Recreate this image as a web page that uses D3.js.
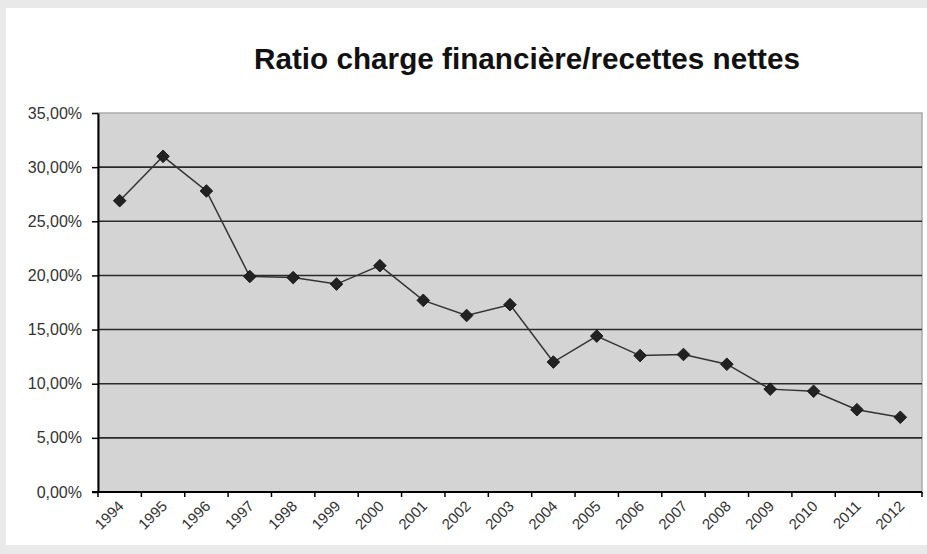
<!DOCTYPE html>
<html>
<head>
<meta charset="utf-8">
<script src="https://cdn.jsdelivr.net/npm/d3@7"></script>
<style>
  body { margin: 0; background: #e9e9e9; }
  svg { display: block; }
</style>
</head>
<body>
<svg width="927" height="554"></svg>
<script>
var years = ["1994", "1995", "1996", "1997", "1998", "1999", "2000", "2001", "2002", "2003",
             "2004", "2005", "2006", "2007", "2008", "2009", "2010", "2011", "2012"];
var ratios = [0.269, 0.310, 0.278, 0.199, 0.198, 0.192, 0.209, 0.177, 0.163, 0.173,
              0.120, 0.144, 0.126, 0.127, 0.118, 0.095, 0.093, 0.076, 0.069];
var yTicks = [0, 0.05, 0.10, 0.15, 0.20, 0.25, 0.30, 0.35];
var title = "Ratio charge financière/recettes nettes";

var svg = d3.select("svg"),
    width = +svg.attr("width"),
    height = +svg.attr("height");

var plotL = 98, plotR = 922, plotT = 113, plotB = 492;

var fr = d3.formatLocale({ decimal: ",", thousands: " ", grouping: [3], currency: ["", " €"] });
var pct = fr.format(".2%");

// page background + white card
svg.append("rect").attr("width", width).attr("height", height).attr("fill", "#e9e9e9");
svg.append("rect")
    .attr("x", 6).attr("y", 8)
    .attr("width", width - 6).attr("height", 537)
    .attr("fill", "#fff");

svg.append("text")
    .attr("x", 254).attr("y", 69)
    .attr("font-family", "Liberation Sans, Arial, sans-serif")
    .attr("font-weight", "bold")
    .attr("font-size", "29px")
    .attr("textLength", 546)
    .attr("lengthAdjust", "spacingAndGlyphs")
    .attr("fill", "#111")
    .text(title);

var x = d3.scaleBand().domain(years).range([plotL, plotR]).padding(0);
var y = d3.scaleLinear().domain([0, 0.35]).range([plotB, plotT]);

// plot area
svg.append("rect")
    .attr("x", plotL).attr("y", plotT)
    .attr("width", plotR - plotL).attr("height", plotB - plotT)
    .attr("fill", "#d4d4d4")
    .attr("stroke", "#aaa")
    .attr("stroke-width", 1.5);

// grid
svg.append("g").selectAll("line")
    .data(yTicks.filter(function (d) { return d > 0 && d < 0.35; }))
    .enter().append("line")
    .attr("x1", plotL).attr("x2", plotR)
    .attr("y1", function (d) { return y(d); })
    .attr("y2", function (d) { return y(d); })
    .attr("stroke", "#2a2a2a")
    .attr("stroke-width", 1.6);

// y axis
var yAxis = svg.append("g")
    .attr("transform", "translate(" + plotL + ",0)")
    .call(d3.axisLeft(y).tickValues(yTicks).tickFormat(pct).tickSize(6).tickSizeOuter(0));
yAxis.select(".domain").attr("stroke", "#000").attr("stroke-width", 2);
yAxis.selectAll(".tick line").attr("stroke", "#000").attr("stroke-width", 1.5);
yAxis.selectAll(".tick text")
    .attr("x", -16)
    .attr("font-family", "Liberation Sans, Arial, sans-serif")
    .attr("font-size", "16px")
    .attr("fill", "#333");

// x axis: ticks on category boundaries, labels at centres
var xAxis = svg.append("g").attr("transform", "translate(0," + plotB + ")");
xAxis.append("line")
    .attr("x1", plotL - 6).attr("x2", plotR)
    .attr("stroke", "#000").attr("stroke-width", 2);
xAxis.selectAll(".xt")
    .data(years.concat(["end"]))
    .enter().append("line")
    .attr("class", "xt")
    .attr("x1", function (d) { return d === "end" ? plotR : x(d); })
    .attr("x2", function (d) { return d === "end" ? plotR : x(d); })
    .attr("y1", 0).attr("y2", 5)
    .attr("stroke", "#000").attr("stroke-width", 1.5);
xAxis.selectAll(".xl")
    .data(years)
    .enter().append("text")
    .attr("class", "xl")
    .attr("text-anchor", "end")
    .attr("font-family", "Liberation Sans, Arial, sans-serif")
    .attr("font-size", "15px")
    .attr("fill", "#333")
    .attr("transform", function (d) {
        return "translate(" + (x(d) + x.bandwidth() / 2 + 5) + ",15) rotate(-45)";
    })
    .text(function (d) { return d; });

// series
var pts = years.map(function (d, i) { return { year: d, v: ratios[i] }; });
var line = d3.line()
    .x(function (d) { return x(d.year) + x.bandwidth() / 2; })
    .y(function (d) { return y(d.v); });

svg.append("path")
    .datum(pts)
    .attr("d", line)
    .attr("fill", "none")
    .attr("stroke", "#333")
    .attr("stroke-width", 1.5);

svg.append("g").selectAll("path")
    .data(pts)
    .enter().append("path")
    .attr("d", d3.symbol().type(d3.symbolSquare).size(80))
    .attr("transform", function (d) {
        return "translate(" + (x(d.year) + x.bandwidth() / 2) + "," + y(d.v) + ") rotate(45)";
    })
    .attr("fill", "#222")
    .attr("stroke", "#111")
    .attr("stroke-width", 0.8);
</script>
</body>
</html>
